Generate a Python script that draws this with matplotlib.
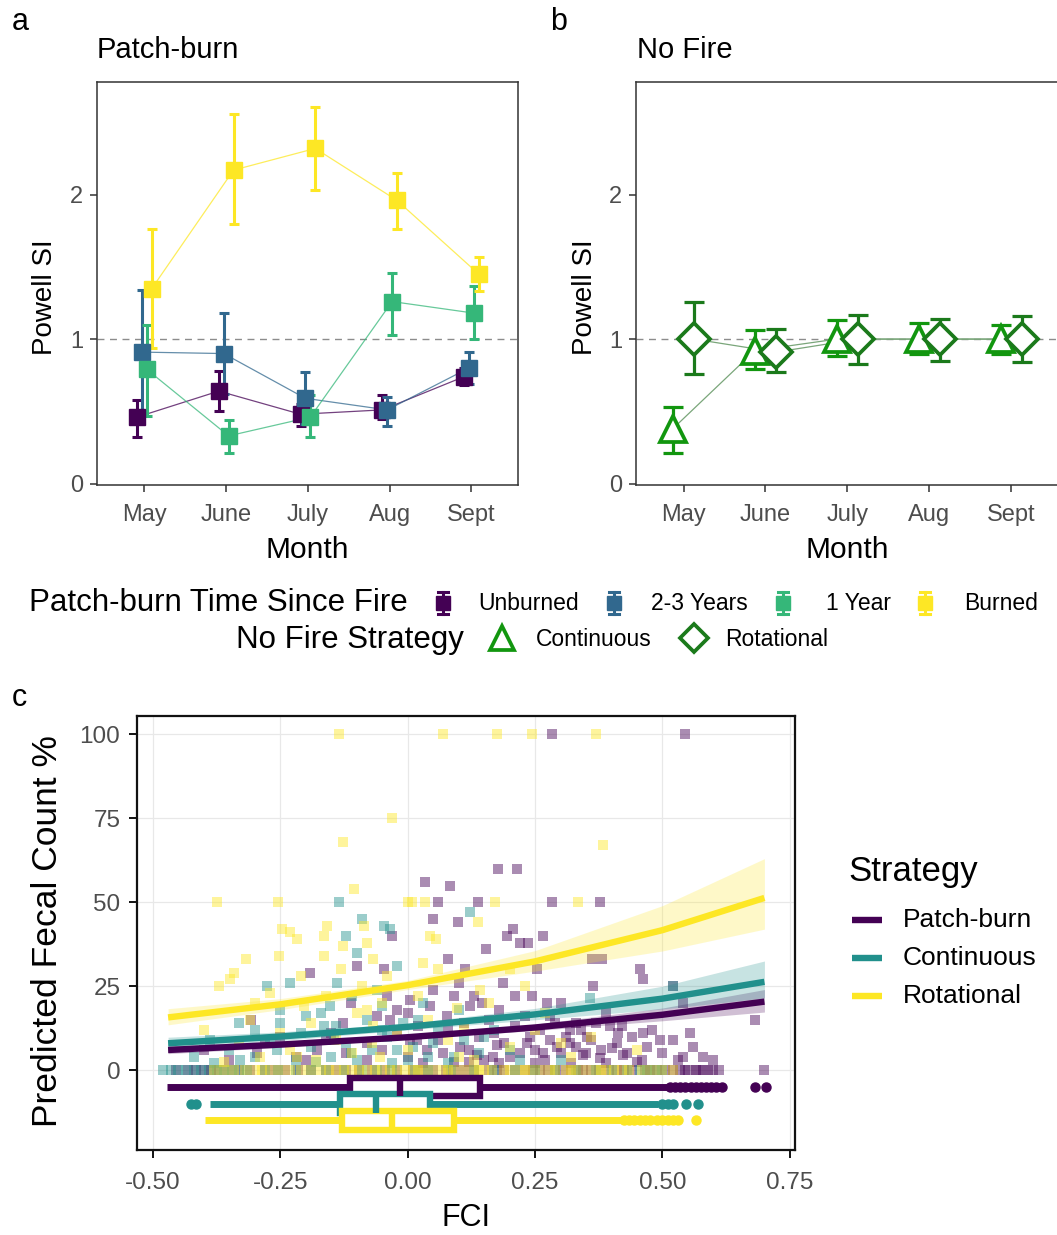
import matplotlib
matplotlib.use("Agg")
import matplotlib.pyplot as plt

plt.rcParams['font.family'] = ['Liberation Sans', 'DejaVu Sans']

W, H = 1057, 1235

# ---------------- panel a / b data ----------------
months = ['May', 'June', 'July', 'Aug', 'Sept']
tsf_groups = ['Unburned', '2-3 Years', '1 Year', 'Burned']
tsf_colors = ['#440154', '#31688E', '#35B779', '#FDE725']
tsf_offsets = [-0.09, -0.03, 0.03, 0.09]

unburned_mean = [0.46, 0.64, 0.48, 0.51, 0.74]
unburned_lo = [0.32, 0.50, 0.40, 0.45, 0.68]
unburned_hi = [0.58, 0.78, 0.55, 0.61, 0.80]

yrs23_mean = [0.91, 0.90, 0.59, 0.51, 0.80]
yrs23_lo = [0.49, 0.62, 0.41, 0.40, 0.69]
yrs23_hi = [1.34, 1.18, 0.77, 0.60, 0.91]

yr1_mean = [0.79, 0.33, 0.46, 1.26, 1.18]
yr1_lo = [0.47, 0.21, 0.32, 1.03, 1.00]
yr1_hi = [1.10, 0.44, 0.61, 1.46, 1.37]

burned_mean = [1.35, 2.17, 2.32, 1.96, 1.45]
burned_lo = [0.94, 1.80, 2.03, 1.76, 1.33]
burned_hi = [1.76, 2.56, 2.61, 2.15, 1.57]

nofire_groups = ['Continuous', 'Rotational']
nofire_colors = ['#12960f', '#1b7a1b']
nofire_markers = ['^', 'D']
nofire_offsets = [-0.13, 0.13]

cont_mean = [0.38, 0.92, 1.00, 1.00, 1.00]
cont_lo = [0.21, 0.79, 0.88, 0.90, 0.90]
cont_hi = [0.53, 1.06, 1.13, 1.11, 1.10]

rot_mean = [1.00, 0.91, 1.00, 1.00, 1.00]
rot_lo = [0.76, 0.77, 0.83, 0.85, 0.84]
rot_hi = [1.26, 1.07, 1.17, 1.14, 1.16]

# ---------------- panel c data ----------------
strategies = ['Patch-burn', 'Continuous', 'Rotational']
strat_colors = ['#440154', '#21908C', '#FDE725']

pb_x = [0.283, 0.544, 0.178, 0.215, 0.035, 0.084, 0.06, 0.138, 0.283, 0.377,
        0.05, 0.099, 0.207, 0.195, 0.22, 0.237, 0.266, 0.154, 0.08, 0.362,
        0.382, 0.254, 0.456, 0.462, 0.521, 0.364, 0.21, 0.244, 0.188, 0.146,
        0.09, 0.113, 0.273, 0.30, 0.54, 0.681, 0.39, 0.397, 0.413, 0.462,
        0.495, 0.554, 0.54, 0.423, 0.40, 0.377, 0.344, 0.319, 0.293, 0.266,
        0.234, 0.201, 0.168, 0.175, 0.136, 0.103, 0.07, 0.038, 0.018, 0.044,
        0.123, 0.077, 0.319, 0.351, -0.191, -0.099, -0.047, -0.308, -0.112, -0.06,
        -0.021, 0.005, -0.126, -0.034, -0.295, -0.178, -0.08, 0.005, -0.031, -0.2,
        -0.15, -0.25, 0.12, 0.25, 0.45, 0.33, 0.28, 0.60,
        -0.08, -0.05, -0.02, 0.0, 0.02, 0.03, 0.06, 0.08, 0.09, 0.11,
        0.12, 0.14, 0.15, 0.16, 0.17, 0.18, 0.19, 0.21, 0.22, 0.23,
        0.24, 0.25, 0.26, 0.27, 0.28, 0.29, 0.30, 0.31, 0.32, 0.33,
        0.34, 0.35, 0.36, 0.37, 0.38, 0.39, 0.41, 0.42, 0.43, 0.44,
        0.46, 0.47, 0.48, 0.50, 0.52, 0.53, 0.56, 0.58, -0.12, -0.16,
        -0.22, -0.28, -0.35, -0.40, 0.0, 0.05, 0.1, 0.18, 0.13, -0.04,
        -0.43, -0.40, -0.37, -0.31, -0.24, -0.19, -0.12, -0.07, 0.01, 0.05,
        0.11, 0.16, 0.19, 0.23, 0.26, 0.29, 0.32, 0.36, 0.41, 0.44,
        0.49, 0.52, 0.55, 0.57, 0.59, 0.61, 0.70,
        -0.455, -0.415, -0.385, -0.35, -0.33, -0.28, -0.26, -0.215, -0.16, -0.14,
        -0.095, -0.045, -0.02, 0.03, 0.075, 0.09, 0.13, 0.175, 0.21, 0.245,
        0.275, 0.305, 0.335, 0.345, 0.375, 0.395, 0.425, 0.465, 0.475, 0.505,
        0.535, 0.545, 0.565, 0.58, 0.60]
pb_y = [100, 100, 60, 60, 56, 55, 50, 50, 50, 50,
        45, 44, 42, 40, 38, 38, 40, 36, 33, 33,
        33, 30, 30, 27, 25, 25, 22, 22, 26, 20,
        22, 30, 20, 20, 20, 15, 17, 13, 11, 11,
        9, 11, 4, 4.5, 6.5, 3.6, 4.5, 8, 7, 5,
        8, 4, 4, 7.4, 4.5, 7, 5, 6, 9, 19,
        19, 16, 12, 10, 29, 31, 30, 15, 20, 16,
        18, 21, 14, 15, 5, 6, 8, 9, 40, 3,
        11, 10, 2.5, 2, 2.5, 14, 16, 3,
        3, 6, 11, 4, 13, 2, 9, 12, 2.5, 14,
        6, 10, 3, 15, 11, 2, 8, 13, 5, 16,
        10, 6, 12, 3, 9, 14, 5, 10, 2, 7,
        12, 5, 9, 14, 6, 2, 8, 13, 5, 10,
        3, 7, 12, 5, 9, 3, 7, 4, 5, 9,
        4, 8, 3, 6, 17, 24, 26, 18, 22, 22,
        0, 0, 0, 0, 0, 0, 0, 0, 0, 0,
        0, 0, 0, 0, 0, 0, 0, 0, 0, 0,
        0, 0, 0, 0, 0, 0, 0,
        0, 0, 0, 0, 0, 0, 0, 0, 0, 0,
        0, 0, 0, 0, 0, 0, 0, 0, 0, 0,
        0, 0, 0, 0, 0, 0, 0, 0, 0, 0,
        0, 0, 0, 0, 0]

co_x = [-0.135, -0.047, -0.034, 0.123, -0.139, -0.021, -0.276, -0.23, -0.152, -0.165,
        -0.256, -0.145, -0.112, -0.021, -0.328, -0.387, 0.05, 0.09, 0.358, -0.09,
        -0.10, -0.06, -0.2, -0.3, -0.05, 0.02, 0.15, 0.2, 0.0, -0.18,
        -0.42, 0.3, 0.52, 0.1, -0.25, -0.12,
        -0.30, -0.27, -0.25, -0.22, -0.21, -0.19, -0.17, -0.15, -0.14, -0.12,
        -0.11, -0.10, -0.08, -0.07, -0.05, -0.04, -0.03, -0.01, 0.01, 0.03,
        0.04, 0.06, 0.08, 0.11, 0.14, 0.17, -0.35, -0.33, -0.38, 0.22,
        -0.48, -0.45, -0.42, -0.39, -0.36, -0.33, -0.28, -0.22, -0.16, -0.09,
        -0.03, 0.04, 0.13, 0.21, 0.29, 0.37, 0.43, 0.47, 0.50,
        -0.465, -0.435, -0.405, -0.375, -0.345, -0.315, -0.255, -0.19, -0.125, -0.06,
        0.015, 0.085, 0.17, 0.25, 0.33, 0.40, 0.455, 0.485]
co_y = [50, 43, 42, 47, 26, 31, 25, 26, 19, 13,
        6, 9, 5, 6, 3, 9, 8, 4, 21.5, 45,
        35, 24, 16, 12, 12, 15, 10, 6, 3, 2.5,
        4, 3, 25, 18, 18, 40,
        4, 9, 14, 3, 11, 7, 17, 4, 13, 8,
        22, 3, 15, 6, 19, 10, 2, 14, 7, 20,
        4, 12, 2, 9, 5, 12, 6, 14, 2, 3,
        0, 0, 0, 0, 0, 0, 0, 0, 0, 0,
        0, 0, 0, 0, 0, 0, 0, 0, 0,
        0, 0, 0, 0, 0, 0, 0, 0, 0, 0,
        0, 0, 0, 0, 0, 0, 0, 0]

ro_x = [-0.135, 0.07, 0.175, 0.244, 0.37, -0.03, -0.126, 0.384, -0.254, 0.008,
        -0.374, -0.106, 0.0, 0.035, 0.172, 0.334, 0.138, 0.055, -0.246, -0.158,
        -0.086, 0.044, 0.031, 0.097, 0.142, -0.318, -0.341, -0.371, -0.253, -0.217,
        -0.165, -0.067, -0.204, -0.08, -0.067, -0.217, -0.054, -0.361, -0.23, -0.165,
        -0.126, -0.08, -0.348, 0.25, 0.3, 0.2, -0.4, -0.3, 0.45, 0.1,
        -0.33, -0.31, -0.29, -0.27, -0.25, -0.23, -0.21, -0.19, -0.18, -0.16,
        -0.14, -0.13, -0.11, -0.10, -0.09, -0.07, -0.05, -0.04, -0.02, 0.0,
        0.02, 0.04, 0.06, 0.08, 0.11, 0.13, 0.16, 0.2, 0.23, 0.27,
        0.32, 0.36,
        -0.38, -0.34, -0.30, -0.27, -0.23, -0.21, -0.17, -0.14, -0.11, -0.08,
        -0.05, -0.02, 0.01, 0.03, 0.07, 0.09, 0.13, 0.15, 0.19, 0.22,
        0.24, 0.28, 0.31, 0.33, 0.37, 0.39, 0.42, 0.46, 0.48, 0.52,
        -0.36, -0.32, -0.285, -0.25, -0.19, -0.155, -0.125, -0.095, -0.065, -0.035,
        -0.005, 0.02, 0.05, 0.08, 0.11, 0.14, 0.165, 0.2, 0.23, 0.26,
        0.29, 0.32, 0.35, 0.38, 0.405, 0.435, 0.5]
ro_y = [100, 100, 100, 100, 100, 75, 68, 67, 50, 50,
        50, 54, 50, 50, 50, 50, 44, 39, 42, 43,
        43, 40, 32, 18.5, 24, 33, 29, 25, 34, 39,
        34, 33, 19, 18, 13, 4, 4, 2.5, 41, 40,
        37, 38, 27, 12, 8, 30, 12, 20, 6, 4,
        8, 15, 4, 23, 11, 6, 28, 14, 3, 22,
        9, 30, 5, 17, 25, 8, 20, 28, 12, 6,
        22, 15, 30, 9, 13, 3, 20, 7, 25, 17,
        4, 10,
        0, 0, 0, 0, 0, 0, 0, 0, 0, 0,
        0, 0, 0, 0, 0, 0, 0, 0, 0, 0,
        0, 0, 0, 0, 0, 0, 0, 0, 0, 0,
        0, 0, 0, 0, 0, 0, 0, 0, 0, 0,
        0, 0, 0, 0, 0, 0, 0, 0, 0, 0,
        0, 0, 0, 0, 0, 0, 0]

fit_x = [-0.47, -0.25, 0.0, 0.25, 0.5, 0.70]
pb_fit = [6.0, 7.6, 9.8, 12.7, 16.5, 20.4]
pb_lo = [4.9, 6.8, 9.2, 11.8, 14.7, 17.3]
pb_hi = [7.3, 8.5, 10.4, 13.7, 18.5, 24.0]
co_fit = [8.0, 10.0, 12.9, 16.6, 21.3, 26.3]
co_lo = [6.5, 8.8, 12.0, 15.0, 18.2, 21.5]
co_hi = [9.8, 11.4, 13.9, 18.4, 25.0, 32.5]
ro_fit = [15.7, 19.6, 25.3, 32.4, 41.7, 51.3]
ro_lo = [13.5, 18.0, 24.0, 29.5, 35.5, 42.0]
ro_hi = [18.3, 21.3, 26.7, 35.6, 49.0, 63.0]

box_pos = [-5, -10, -15]
box_med = [-0.015, -0.063, -0.031]
box_q1 = [-0.113, -0.132, -0.129]
box_q3 = [0.142, 0.044, 0.090]
box_lo = [-0.473, -0.387, -0.397]
box_hi = [0.508, 0.491, 0.420]
box_fliers = [[0.515, 0.525, 0.535, 0.545, 0.555, 0.565, 0.575, 0.585, 0.595, 0.605, 0.616, 0.681, 0.704],
              [-0.426, -0.416, 0.50, 0.51, 0.52, 0.546, 0.569],
              [0.425, 0.435, 0.445, 0.455, 0.465, 0.475, 0.49, 0.50, 0.51, 0.52, 0.53, 0.566]]


def frac(l, t, r, b):
    return [l / W, 1 - b / H, (r - l) / W, (b - t) / H]


fig = plt.figure(figsize=(W / 100, H / 100), dpi=100)
ax_a = fig.add_axes(frac(97, 82, 518, 485))
ax_b = fig.add_axes(frac(636, 82, 1058, 485))
ax_c = fig.add_axes(frac(137, 716, 795, 1150))

tick_grey = '#4d4d4d'
xpos = list(range(1, len(months) + 1))

# panel a
tsf_mean = [unburned_mean, yrs23_mean, yr1_mean, burned_mean]
tsf_lo = [unburned_lo, yrs23_lo, yr1_lo, burned_lo]
tsf_hi = [unburned_hi, yrs23_hi, yr1_hi, burned_hi]
ax_a.axhline(1, color='#8c8c8c', lw=1, ls=(0, (5, 4)), zorder=1)
for g in range(len(tsf_groups)):
    xs = [p + tsf_offsets[g] for p in xpos]
    m = tsf_mean[g]
    err = [[m[i] - tsf_lo[g][i] for i in range(5)], [tsf_hi[g][i] - m[i] for i in range(5)]]
    ax_a.plot(xs, m, color=tsf_colors[g], lw=0.9, alpha=0.75, zorder=2)
    ax_a.errorbar(xs, m, yerr=err, fmt='s', color=tsf_colors[g], ms=12, elinewidth=2.2,
                  capsize=3.5, capthick=2.2, zorder=3)

# panel b
nf_mean = [cont_mean, rot_mean]
nf_lo = [cont_lo, rot_lo]
nf_hi = [cont_hi, rot_hi]
nf_ms = [19, 16]
ax_b.axhline(1, color='#8c8c8c', lw=1, ls=(0, (5, 4)), zorder=1)
for g in range(len(nofire_groups)):
    xs = [p + nofire_offsets[g] for p in xpos]
    m = nf_mean[g]
    err = [[m[i] - nf_lo[g][i] for i in range(5)], [nf_hi[g][i] - m[i] for i in range(5)]]
    ax_b.plot(xs, m, color='#7aa67a', lw=0.9, zorder=2)
    ax_b.errorbar(xs, m, yerr=err, fmt='none', ecolor=nofire_colors[g], elinewidth=2.3,
                  capsize=7, capthick=2.3, zorder=3)
    ax_b.plot(xs, m, ls='none', marker=nofire_markers[g], ms=nf_ms[g],
              mfc='white', mec=nofire_colors[g], mew=2.7, zorder=4)

for ax in (ax_a, ax_b):
    ax.set_xlim(0.42, 5.57)
    ax.set_ylim(-0.01, 2.78)
    ax.set_xticks(xpos)
    ax.set_xticklabels(months)
    ax.set_yticks([0, 1, 2])
    ax.tick_params(labelsize=17, labelcolor=tick_grey, length=5, width=1.1, color='#333333')
    ax.tick_params(axis='x', pad=9)
    ax.tick_params(axis='y', pad=5)
    for s in ax.spines.values():
        s.set_linewidth(1.1)
        s.set_color('#333333')

# panel c
pts = [(pb_x, pb_y), (co_x, co_y), (ro_x, ro_y)]
fits = [(pb_fit, pb_lo, pb_hi), (co_fit, co_lo, co_hi), (ro_fit, ro_lo, ro_hi)]
for g in range(3):
    ax_c.scatter(pts[g][0], pts[g][1], marker='s', s=50, color=strat_colors[g], alpha=0.45,
                 linewidths=0, zorder=2)
for g in range(3):
    ax_c.fill_between(fit_x, fits[g][1], fits[g][2], color=strat_colors[g], alpha=0.25, lw=0, zorder=3)
    ax_c.plot(fit_x, fits[g][0], color=strat_colors[g], lw=4.6, zorder=4, solid_capstyle='butt')

stats = []
for g in range(3):
    stats.append(dict(med=box_med[g], q1=box_q1[g], q3=box_q3[g], whislo=box_lo[g],
                      whishi=box_hi[g], fliers=box_fliers[g]))
bp = ax_c.bxp(stats, positions=box_pos, widths=5.5, orientation='horizontal', patch_artist=True,
              showcaps=False, manage_ticks=False, zorder=5)
for g in range(3):
    c = strat_colors[g]
    bp['boxes'][g].set(facecolor='white', edgecolor=c, linewidth=4.6)
    bp['medians'][g].set(color=c, linewidth=4.6)
    for w in bp['whiskers'][2 * g:2 * g + 2]:
        w.set(color=c, linewidth=5.0, solid_capstyle='butt')
    bp['fliers'][g].set(marker='o', markerfacecolor=c, markeredgecolor=c, markersize=6.5)

ax_c.set_xlim(-0.531, 0.76)
ax_c.set_ylim(-23.8, 105.5)
ax_c.set_xticks([-0.5, -0.25, 0, 0.25, 0.5, 0.75])
ax_c.set_xticklabels(['-0.50', '-0.25', '0.00', '0.25', '0.50', '0.75'])
ax_c.set_yticks([0, 25, 50, 75, 100])
ax_c.grid(color='#e8e8e8', lw=0.9)
ax_c.set_axisbelow(True)
ax_c.tick_params(labelsize=17.5, labelcolor=tick_grey, length=6, width=1.3)
ax_c.tick_params(axis='x', pad=10)
ax_c.tick_params(axis='y', pad=6)
for s in ax_c.spines.values():
    s.set_linewidth(1.6)
    s.set_color('#111111')

# ---------------- texts and legends (pixel overlay) ----------------
ov = fig.add_axes([0, 0, 1, 1])
ov.set_xlim(0, W)
ov.set_ylim(H, 0)
ov.axis('off')

ov.text(12, 22, 'a', fontsize=22, va='center', ha='left')
ov.text(550, 22, 'b', fontsize=22, va='center', ha='left')
ov.text(12, 698, 'c', fontsize=22, va='center', ha='left')
ov.text(97, 50, 'Patch-burn', fontsize=21, va='center', ha='left')
ov.text(637, 50, 'No Fire', fontsize=21, va='center', ha='left')
ov.text(307, 550, 'Month', fontsize=21.5, va='center', ha='center')
ov.text(847, 550, 'Month', fontsize=21.5, va='center', ha='center')
ov.text(45, 297, 'Powell SI', fontsize=20, va='center', ha='center', rotation=90)
ov.text(585, 297, 'Powell SI', fontsize=20, va='center', ha='center', rotation=90)
ov.text(48, 931, 'Predicted Fecal Count %', fontsize=25.5, va='center', ha='center', rotation=90)
ov.text(466, 1218, 'FCI', fontsize=22, va='center', ha='center')

# shared legend of panels a and b
ov.text(408, 603, 'Patch-burn Time Since Fire', fontsize=22.5, va='center', ha='right')
key_x = [443, 614, 783, 925]
lab_x = [478, 651, 826, 964]
for g in range(4):
    ov.plot([key_x[g], key_x[g]], [592, 614], color=tsf_colors[g], lw=2.2)
    ov.plot([key_x[g] - 5, key_x[g] + 5], [592, 592], color=tsf_colors[g], lw=2.2)
    ov.plot([key_x[g] - 5, key_x[g] + 5], [614, 614], color=tsf_colors[g], lw=2.2)
    ov.plot([key_x[g]], [603], marker='s', ms=10, color=tsf_colors[g])
    ov.text(lab_x[g], 603, tsf_groups[g], fontsize=16.5, va='center', ha='left')

ov.text(464, 640, 'No Fire Strategy', fontsize=22.5, va='center', ha='right')
nf_key_x = [502, 694]
nf_lab_x = [536, 725]
for g in range(2):
    ov.plot([nf_key_x[g]], [638], marker=nofire_markers[g], ms=nf_ms[g] - 2,
            mfc='white', mec=nofire_colors[g], mew=2.7)
    ov.text(nf_lab_x[g], 640, nofire_groups[g], fontsize=16.5, va='center', ha='left')

# legend of panel c
ov.text(848, 871, 'Strategy', fontsize=25, va='center', ha='left')
leg_y = [920, 958, 996]
for g in range(3):
    ov.plot([852, 882], [leg_y[g], leg_y[g]], color=strat_colors[g], lw=4.6, solid_capstyle='butt')
    ov.text(903, leg_y[g], strategies[g], fontsize=19, va='center', ha='left')

fig.savefig('out.png', dpi=100)
